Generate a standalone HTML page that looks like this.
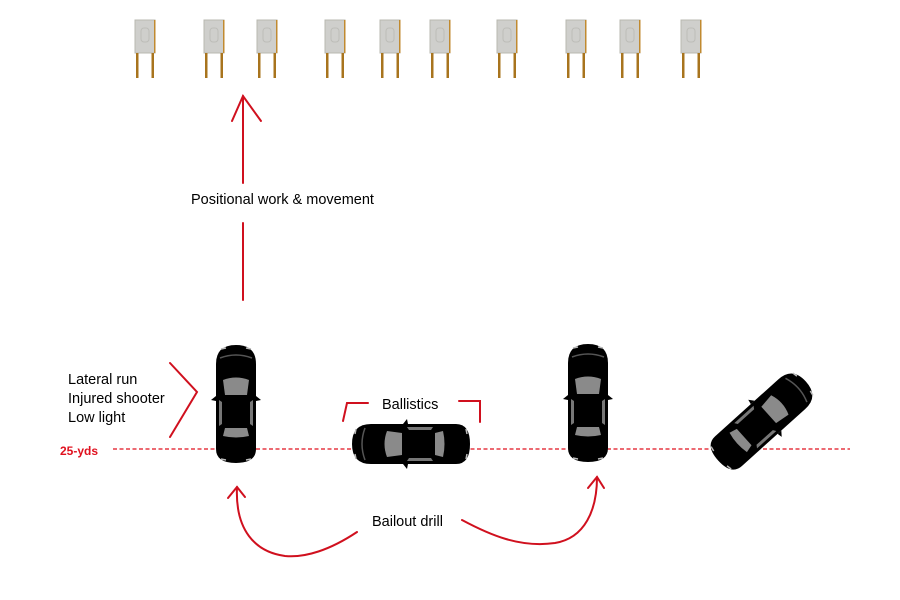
<!DOCTYPE html>
<html><head><style>body{margin:0;background:#fff}svg{display:block}</style></head><body>
<svg width="900" height="600" viewBox="0 0 900 600" xmlns="http://www.w3.org/2000/svg" font-family="Liberation Sans, Arial, sans-serif">
<defs>
<g id="car">
<path d="M-20 -40 Q-20 -59 0 -59 Q20 -59 20 -40 L20 45 Q20 59 0 59 Q-20 59 -20 45 Z" fill="#000"/>
<path d="M-16 -46 Q0 -52 16 -46" stroke="#555" stroke-width="1.5" fill="none"/>
<path d="M-13 -24 Q0 -29 13 -24 L11 -9 L-11 -9 Z" fill="#8a8a8a"/>
<path d="M-11 24 L11 24 L13 32 Q0 35 -13 32 Z" fill="#8a8a8a"/>
<path d="M-17 -4 L-14 -2 L-14 20 L-17 22 Z M17 -4 L14 -2 L14 20 L17 22 Z" fill="#777"/>
<path d="M-20 -8 L-25 -4 L-20 -3 Z M20 -8 L25 -4 L20 -3 Z" fill="#000"/>
<path d="M-15 -55 L-10 -56 M15 -55 L10 -56 M-15 55 L-10 56 M15 55 L10 56" stroke="#bbb" stroke-width="1.5"/>
</g>
<g id="sign">
<rect x="0" y="0" width="20" height="33" fill="#cfcfcc" stroke="#b8b8b0"/>
<rect x="6" y="8" width="8" height="14" rx="3" fill="none" stroke="#bdbdb8"/>
<rect x="1" y="33" width="2.5" height="25" fill="#a8741e"/>
<rect x="16.5" y="33" width="2.5" height="25" fill="#a8741e"/>
<rect x="19" y="0" width="1.5" height="33" fill="#c08a30"/>
</g>
</defs>
<g transform="translate(0,20)">
<use href="#sign" x="135"/><use href="#sign" x="204"/><use href="#sign" x="257"/><use href="#sign" x="325"/><use href="#sign" x="380"/><use href="#sign" x="430"/><use href="#sign" x="497"/><use href="#sign" x="566"/><use href="#sign" x="620"/><use href="#sign" x="681"/>
</g>
<line x1="113" y1="449" x2="850" y2="449" stroke="#e0101e" stroke-width="1.2" stroke-dasharray="4,2.5"/>
<g stroke="#d0101e" stroke-width="2" fill="none" stroke-linecap="round">
<line x1="243" y1="300" x2="243" y2="223"/>
<line x1="243" y1="183" x2="243" y2="96"/>
<path d="M232 121 L243 96 L261 121"/>
<path d="M170 363 L197 392 L170 437"/>
<path d="M343 421 L347 403 L368 403"/>
<path d="M459 401 L480 401 L480 422"/>
<path d="M357 532 C330 550 305 558 285 556 C255 552 235 530 237 487"/>
<path d="M228 498 L237 487 L245 497"/>
<path d="M462 520 C490 535 520 548 555 543 C585 538 597 510 597 477"/>
<path d="M588 488 L597 477 L604 488"/>
</g>
<use href="#car" transform="translate(236,404)"/>
<use href="#car" transform="translate(411,444) rotate(-90) scale(1,1)"/>
<use href="#car" transform="translate(588,403)"/>
<use href="#car" transform="translate(762,421) rotate(48)"/>
<g font-size="14.5" fill="#000">
<text x="191" y="204">Positional work &amp; movement</text>
<text x="68" y="384">Lateral run</text>
<text x="68" y="403">Injured shooter</text>
<text x="68" y="422">Low light</text>
<text x="382" y="409">Ballistics</text>
<text x="372" y="526">Bailout drill</text>
</g>
<text x="60" y="455" font-size="12" font-weight="bold" fill="#e0101e">25-yds</text>
</svg>
</body></html>
